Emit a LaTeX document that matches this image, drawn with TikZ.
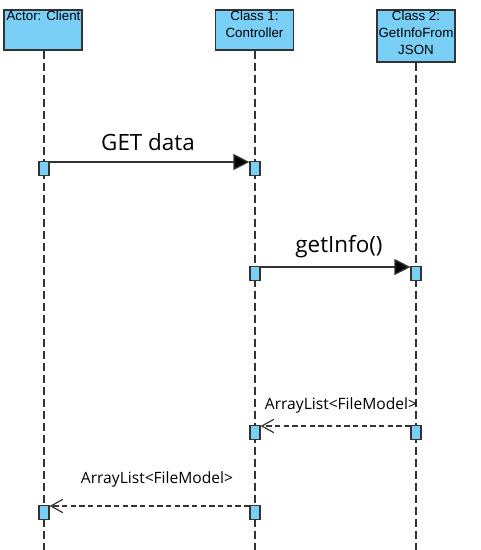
\documentclass[tikz,border=0pt]{standalone}
\usepackage{fontspec}
\setmainfont{Open Sans}
\newfontfamily\headfont{Liberation Sans}
\usetikzlibrary{arrows.meta}
\definecolor{boxblue}{HTML}{79CFF5}
\definecolor{edgegray}{HTML}{333333}
\begin{document}
\begin{tikzpicture}[x=0.75pt,y=-0.75pt,
  headbox/.style={draw=edgegray, line width=1.2pt, fill=boxblue, inner sep=0pt, minimum width=58.5pt},
  headtext/.style={anchor=north, inner sep=0pt, align=center, font=\headfont\fontsize{10}{12.75}\selectfont},
  actbox/.style={draw=edgegray, line width=0.9pt, fill=boxblue, inner sep=0pt, minimum width=7.5pt, minimum height=10.5pt, anchor=north},
  lifeline/.style={draw=edgegray, line width=0.9pt, dash pattern=on 6pt off 3pt},
  msg/.style={draw=edgegray, line width=1pt, -{Triangle[length=12pt,width=12pt,fill=black]}},
  retmsg/.style={draw=edgegray, line width=0.9pt, dash pattern=on 4pt off 2.5pt, -{Straight Barb[length=9pt,width=10pt,line width=0.9pt]}},
  biglabel/.style={inner sep=0pt, font=\fontsize{16.8}{18}\selectfont},
  smalllabel/.style={inner sep=0pt, font=\fontsize{11.7}{14}\selectfont}
]
\useasboundingbox (0,0) rectangle (480,550);
% header boxes
\node[headbox, minimum height=30pt] (client) at (43,30) {};
\node[headbox, minimum height=30pt] (ctrl) at (254.5,30) {};
\node[headbox, minimum height=39pt] (json) at (416,36) {};
\node[headtext] (clientT) at (43.5,11) {Actor: Client};
\node[headtext] (ctrlT) at (254.5,11) {Class 1:\\Controller};
\node[headtext] (jsonT) at (416,11) {Class 2:\\GetInfoFrom\\JSON};
% lifeline end points
\coordinate (clientEnd) at (44,550);
\coordinate (ctrlEnd) at (255,550);
\coordinate (jsonEnd) at (416,550);
\draw[lifeline] (client.south -| clientEnd) -- (clientEnd);
\draw[lifeline] (ctrl.south -| ctrlEnd) -- (ctrlEnd);
\draw[lifeline] (json.south -| jsonEnd) -- (jsonEnd);
% activation boxes
\node[actbox] (a1) at (44,161) {};
\node[actbox] (a2) at (255,161) {};
\node[actbox] (a3) at (255,266) {};
\node[actbox] (a4) at (416,266) {};
\node[actbox] (a5) at (416,425) {};
\node[actbox] (a6) at (255,425) {};
\node[actbox] (a7) at (255,505) {};
\node[actbox] (a8) at (44,505) {};
% messages
\draw[msg] ([yshift=-0.75pt]a1.north east) -- ([yshift=-0.75pt]a2.north west);
\node[biglabel] (l1) at (148,142) {GET data};
\draw[msg] ([yshift=-0.75pt]a3.north east) -- ([yshift=-0.75pt]a4.north west);
\node[biglabel] (l2) at (339,247) {getInfo()};
\draw[retmsg] ([yshift=-0.75pt]a5.north west) -- ([yshift=-0.75pt]a6.north east);
\node[smalllabel] (l3) at (341,405) {ArrayList<FileModel>};
\draw[retmsg] ([yshift=-0.75pt]a7.north west) -- ([yshift=-0.75pt]a8.north east);
\node[smalllabel] (l4) at (157,479) {ArrayList<FileModel>};
\end{tikzpicture}
\end{document}
